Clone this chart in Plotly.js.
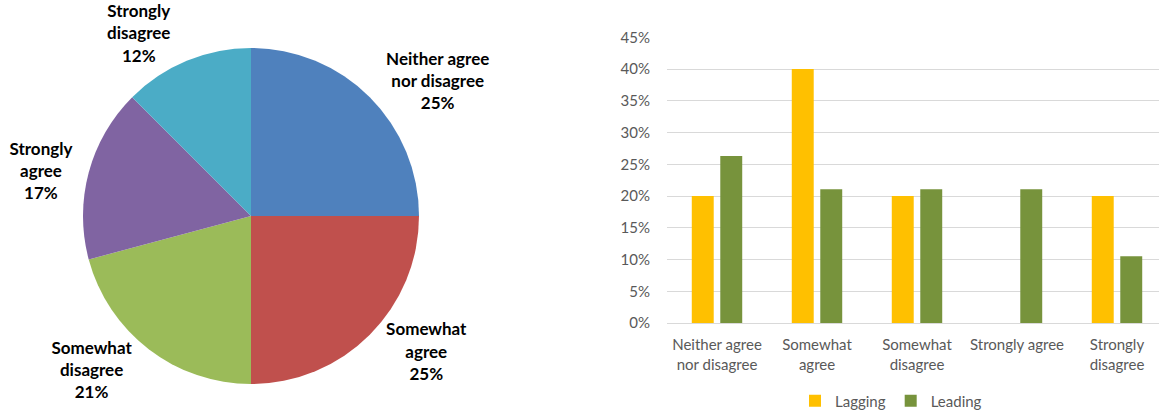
<!DOCTYPE html>
<html>
<head>
<meta charset="utf-8">
<script src="https://cdn.plot.ly/plotly-3.0.1.min.js"></script>
<style>
  html, body { margin: 0; padding: 0; background: #fff; }
  #chart { width: 1159px; height: 412px; }
</style>
</head>
<body>
<div id="chart"></div>
<script>
// Pie data (respondent counts and displayed percentages)
const pieLabels = ["Neither agree<br>nor disagree", "Somewhat<br>agree", "Somewhat<br>disagree", "Strongly<br>agree", "Strongly<br>disagree"];
const pieCounts = [6, 6, 5, 4, 3];
const piePctText = ["25%", "25%", "21%", "17%", "12%"];
const pieColors = ["#4F81BD", "#C0504D", "#9BBB59", "#8064A2", "#4BACC6"];

// Bar data
const barCategories = ["Neither agree<br>nor disagree", "Somewhat<br>agree", "Somewhat<br>disagree", "Strongly agree", "Strongly<br>disagree"];
const lagging = [0.20, 0.40, 0.20, 0, 0.20];
const leading = [0.263, 0.2105, 0.2105, 0.2105, 0.105];
const yTickVals = [0, 0.05, 0.10, 0.15, 0.20, 0.25, 0.30, 0.35, 0.40, 0.45];

const W = 1159, H = 412;
const fontFam = "Lato, 'Open Sans', sans-serif";

const traces = [
  {
    type: "pie",
    labels: pieLabels,
    values: pieCounts,
    text: piePctText,
    texttemplate: "<b>%{label}<br>%{text}</b>",
    textposition: "outside",
    textfont: { family: fontFam, size: 17, color: "#000" },
    marker: { colors: pieColors, line: { width: 0 } },
    sort: false,
    direction: "clockwise",
    rotation: 0,
    showlegend: false,
    hoverinfo: "none",
    domain: { x: [(251 - 168) / W, (251 + 168) / W], y: [1 - 384 / H, 1 - 48 / H] }
  },
  {
    type: "bar",
    name: "Lagging",
    x: barCategories,
    y: lagging,
    marker: { color: "#FFC000" },
    xaxis: "x",
    yaxis: "y"
  },
  {
    type: "bar",
    name: "Leading",
    x: barCategories,
    y: leading,
    marker: { color: "#77933C" },
    xaxis: "x",
    yaxis: "y"
  }
];

const layout = {
  width: W,
  height: H,
  margin: { l: 0, r: 0, t: 0, b: 0, autoexpand: false },
  paper_bgcolor: "#fff",
  plot_bgcolor: "#fff",
  font: { family: fontFam, size: 15, color: "#595959" },
  barmode: "group",
  bargap: 0.43,
  bargroupgap: 0.23,
  xaxis: {
    domain: [667 / W, 1],
    range: [-0.5, 4.42],
    showgrid: false,
    showline: true,
    linecolor: "#D9D9D9",
    linewidth: 1,
    ticks: "",
    ticklabelstandoff: 8,
    tickfont: { family: fontFam, size: 15, color: "#595959" },
    fixedrange: true
  },
  yaxis: {
    domain: [1 - 323 / H, 1 - 37.3 / H],
    range: [0, 0.45],
    tickvals: yTickVals,
    tickformat: ".0%",
    showgrid: true,
    gridcolor: "#D9D9D9",
    gridwidth: 1,
    zeroline: false,
    showline: false,
    ticks: "",
    ticklabelstandoff: 16,
    tickfont: { family: fontFam, size: 15, color: "#595959" },
    fixedrange: true
  },
  showlegend: true,
  legend: {
    orientation: "h",
    x: 795 / W,
    xanchor: "left",
    y: 1 - 401 / H,
    yanchor: "middle",
    font: { family: fontFam, size: 15, color: "#595959" },
    itemwidth: 30,
    bgcolor: "rgba(0,0,0,0)"
  }
};

Plotly.newPlot("chart", traces, layout, { displayModeBar: false, staticPlot: true });
</script>
</body>
</html>
